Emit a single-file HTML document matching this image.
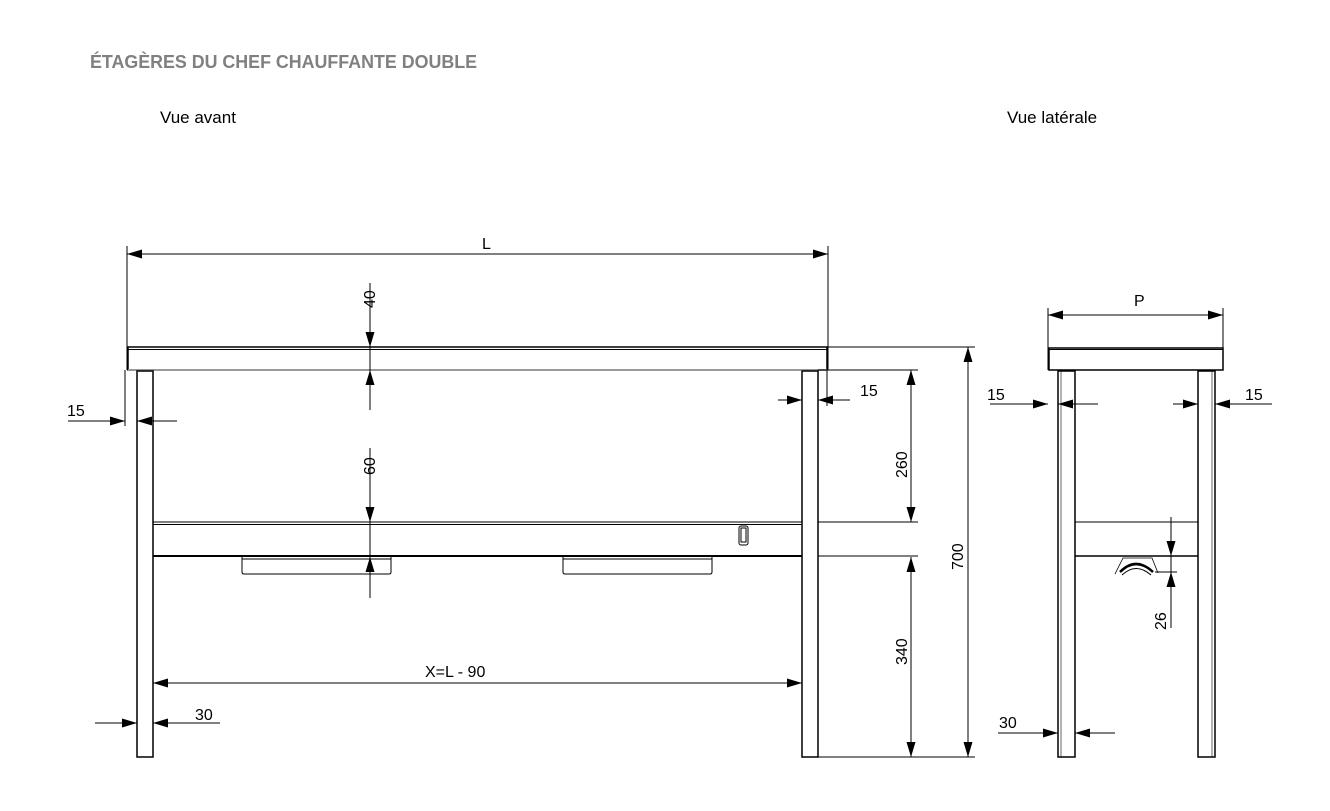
<!DOCTYPE html>
<html><head><meta charset="utf-8"><style>
html,body{margin:0;padding:0;background:#fff;}
svg{display:block;}
text{font-family:"Liberation Sans",sans-serif;}
</style></head><body>
<svg width="1330" height="811" viewBox="0 0 1330 811" xmlns="http://www.w3.org/2000/svg">
<defs>
<marker id="a" markerUnits="userSpaceOnUse" markerWidth="16" markerHeight="10" refX="15" refY="5" orient="auto-start-reverse">
<path d="M0,0.5 L15,5 L0,9.5 Z" fill="#000"/></marker>
</defs>
<text x="90" y="68" font-size="18" font-weight="bold" fill="#808080" textLength="387" lengthAdjust="spacingAndGlyphs">ÉTAGÈRES DU CHEF CHAUFFANTE DOUBLE</text>
<text x="160" y="123" font-size="17">Vue avant</text>
<text x="1007" y="123" font-size="17">Vue latérale</text>

<g stroke="#000" fill="none" stroke-width="1">
<!-- FRONT -->
<line x1="127" y1="246" x2="127" y2="370"/>
<line x1="828" y1="246" x2="828" y2="370"/>
<line x1="127" y1="254" x2="828" y2="254" marker-start="url(#a)" marker-end="url(#a)"/>
<rect x="128" y="347" width="699" height="23" stroke-width="1.5"/>
<line x1="128" y1="349.5" x2="827" y2="349.5"/>
<line x1="128" y1="370" x2="827" y2="370" stroke="#999" stroke-width="2"/>
<rect x="137" y="371" width="16" height="386" stroke-width="1.5"/>
<rect x="802" y="371" width="16" height="386" stroke-width="1.5"/>
<line x1="153" y1="522" x2="802" y2="522"/>
<line x1="153" y1="524.5" x2="802" y2="524.5"/>
<line x1="153" y1="556" x2="802" y2="556" stroke-width="2"/>
<path d="M242,557 V572 Q242,574 244,574 H389 Q391,574 391,572 V557"/>
<line x1="242" y1="559" x2="391" y2="559"/>
<path d="M563,557 V572 Q563,574 565,574 H710 Q712,574 712,572 V557"/>
<line x1="563" y1="559" x2="712" y2="559"/>
<rect x="739" y="526" width="9" height="19" rx="2"/>
<rect x="741" y="528" width="5" height="14"/>
<!-- 40 -->
<line x1="370" y1="283" x2="370" y2="347" marker-end="url(#a)"/>
<line x1="370" y1="410" x2="370" y2="370" marker-end="url(#a)"/>
<line x1="370" y1="347" x2="370" y2="370"/>
<!-- 60 -->
<line x1="370" y1="448" x2="370" y2="522" marker-end="url(#a)"/>
<line x1="370" y1="598" x2="370" y2="557" marker-end="url(#a)"/>
<line x1="370" y1="522" x2="370" y2="557"/>
<!-- 15 left -->
<line x1="125" y1="370" x2="125" y2="426"/>
<line x1="68" y1="421" x2="125" y2="421" marker-end="url(#a)"/>
<line x1="177" y1="421" x2="137" y2="421" marker-end="url(#a)"/>
<!-- 15 right -->
<line x1="827" y1="370" x2="827" y2="406"/>
<line x1="778" y1="400" x2="802" y2="400" marker-end="url(#a)"/>
<line x1="850" y1="400" x2="818" y2="400" marker-end="url(#a)"/>
<!-- 30 -->
<line x1="95" y1="723" x2="137" y2="723" marker-end="url(#a)"/>
<line x1="220" y1="723" x2="153" y2="723" marker-end="url(#a)"/>
<!-- X -->
<line x1="153" y1="683" x2="802" y2="683" marker-start="url(#a)" marker-end="url(#a)"/>
<!-- right dims -->
<line x1="828" y1="347" x2="975" y2="347"/>
<line x1="818" y1="370" x2="918" y2="370"/>
<line x1="818" y1="522" x2="918" y2="522"/>
<line x1="818" y1="556" x2="918" y2="556"/>
<line x1="818" y1="757" x2="975" y2="757"/>
<line x1="911" y1="370" x2="911" y2="522" marker-start="url(#a)" marker-end="url(#a)"/>
<line x1="911" y1="557" x2="911" y2="757" marker-start="url(#a)" marker-end="url(#a)"/>
<line x1="968" y1="347" x2="968" y2="757" marker-start="url(#a)" marker-end="url(#a)"/>

<!-- SIDE -->
<line x1="1048" y1="308" x2="1048" y2="370"/>
<line x1="1223" y1="308" x2="1223" y2="370"/>
<line x1="1048" y1="315" x2="1223" y2="315" marker-start="url(#a)" marker-end="url(#a)"/>
<rect x="1049" y="348" width="174" height="22" stroke-width="1.5"/>
<line x1="1049" y1="349.5" x2="1223" y2="349.5"/>
<rect x="1058" y="371" width="17" height="386" stroke-width="1.5"/>
<rect x="1198" y="371" width="17" height="386" stroke-width="1.5"/>
<line x1="1061" y1="371" x2="1061" y2="757" stroke-width="0.6"/>
<line x1="1212" y1="371" x2="1212" y2="757" stroke-width="0.6"/>
<line x1="1075" y1="522" x2="1198" y2="522"/>
<line x1="1075" y1="556" x2="1198" y2="556" stroke-width="1.5"/>
<path d="M1115,574 L1123,558 H1152 L1158,573" stroke-width="0.8"/>
<path d="M1120,572 Q1136,556 1153,572" stroke-width="2.5"/>
<path d="M1122,575 Q1136,562 1151,575" stroke-width="1"/>
<line x1="1155" y1="572" x2="1177" y2="572"/>
<line x1="1171" y1="517" x2="1171" y2="556" marker-end="url(#a)"/>
<line x1="1171" y1="628" x2="1171" y2="572" marker-end="url(#a)"/>
<line x1="1171" y1="556" x2="1171" y2="572"/>
<line x1="990" y1="404" x2="1048" y2="404" marker-end="url(#a)"/>
<line x1="1098" y1="404" x2="1058" y2="404" marker-end="url(#a)"/>
<line x1="1173" y1="404" x2="1198" y2="404" marker-end="url(#a)"/>
<line x1="1272" y1="404" x2="1215" y2="404" marker-end="url(#a)"/>
<line x1="998" y1="733" x2="1058" y2="733" marker-end="url(#a)"/>
<line x1="1115" y1="733" x2="1075" y2="733" marker-end="url(#a)"/>
</g>

<g font-size="16" fill="#000">
<text x="482" y="249">L</text>
<text x="1134" y="306">P</text>
<text x="67" y="416">15</text>
<text x="860" y="396">15</text>
<text x="195" y="720">30</text>
<text x="425" y="677">X=L - 90</text>
<text x="987" y="400">15</text>
<text x="1245" y="400">15</text>
<text x="999" y="728">30</text>
<text transform="translate(375,308) rotate(-90)">40</text>
<text transform="translate(375,475) rotate(-90)">60</text>
<text transform="translate(907,478) rotate(-90)">260</text>
<text transform="translate(907,665) rotate(-90)">340</text>
<text transform="translate(963,570) rotate(-90)">700</text>
<text transform="translate(1166,630) rotate(-90)">26</text>
</g>
</svg>
</body></html>
